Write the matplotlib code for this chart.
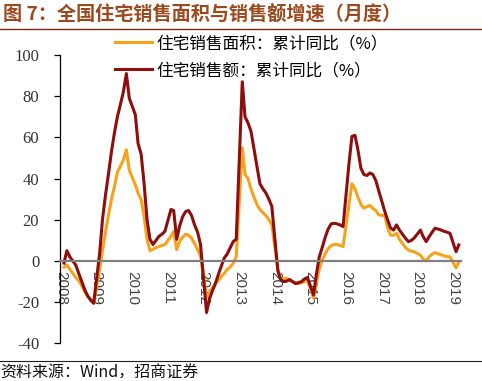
import matplotlib
matplotlib.use('Agg')
import matplotlib.pyplot as plt
import matplotlib.dates as mdates
from matplotlib.lines import Line2D
import pandas as pd

plt.rcParams['font.family'] = ['Noto Sans CJK SC', 'DejaVu Sans']
plt.rcParams['axes.unicode_minus'] = False

# 住宅销售面积 / 销售额 累计同比 (%), monthly Feb-Dec (no Jan), 2008-02 .. 2019-03
area_yoy = [
    -3, -2, -4, -6, -8, -9.5, -12, -15, -17, -19, -20.5,        # 2008
    -4, 5, 14, 22, 30, 36, 43, 46, 49, 54, 44,                  # 2009
    37, 33, 30, 22, 10.5, 5, 5.7, 6.5, 7, 7.5, 8,               # 2010
    12, 14.3, 5.5, 9.5, 11.5, 13, 12.5, 11, 8.5, 5.5, 2.5,      # 2011
    -17.5, -15.5, -13, -11, -9.5, -7.5, -6, -4, -3, -1, 2,      # 2012
    55, 42, 40, 35, 31, 27.5, 25, 23.5, 22, 20, 17.5,           # 2013
    -4, -8.5, -8.6, -8.4, -9.5, -10, -10.5, -11, -10.5, -10, -9.3,  # 2014
    -18, -11, -4, 0.5, 3.5, 6, 7.5, 8, 8, 7.5, 7,               # 2015
    28, 37.5, 35, 31, 27.5, 25.6, 26.4, 27, 25.5, 24.5, 22.4,   # 2016
    22, 16, 12.5, 12.5, 13.4, 10.5, 8.5, 6.5, 5.3, 4.7, 4.5,    # 2017
    2.8, 1, 0, 2, 3.3, 4, 3.5, 3, 2.5, 2.2, 2,                  # 2018
    -3.3, -0.5,                                                 # 2019
]
value_yoy = [
    -1, 5, 2, 0, -2, -6, -10, -14, -17, -19, -20.5,             # 2008
    4, 20, 32, 42, 53, 62, 70, 76, 82, 91, 79,                  # 2009
    71, 57, 52, 38, 20, 10.5, 8, 10, 12, 13, 14.4,              # 2010
    25, 24.5, 10.5, 17, 21.5, 24, 24.5, 22, 17.5, 14, 8,        # 2011
    -25, -18.5, -14.5, -11, -6.5, -2.5, 1.5, 3.5, 6.5, 9.5, 10.5,  # 2012
    87, 70, 67, 63, 54.5, 46, 37.5, 35, 33, 30, 26.5,           # 2013
    -5, -9, -10, -9.8, -9, -10, -11, -10.5, -10, -8.7, -8,      # 2014
    -16.5, -7, 2, 6.5, 11.5, 15.5, 18, 18.3, 18, 17.5, 16.7,    # 2015
    48, 60.5, 61, 54, 45, 42, 41.5, 42.7, 42, 39, 34,           # 2016
    24, 20, 16, 15, 17.5, 15, 13, 11, 9.4, 10, 11.3,            # 2017
    15, 11.8, 9.4, 11.8, 14, 15.9, 15.5, 15, 14.4, 14, 13.4,    # 2018
    4.5, 7.8,                                                   # 2019
]
years = list(range(2008, 2020))
months = pd.to_datetime([f'{y}-{m:02d}-01' for y in years for m in range(2, 13)][:len(area_yoy)])

labels = ['住宅销售面积：累计同比（%）', '住宅销售额：累计同比（%）']
colors = ['#F7A21B', '#8E0E0E']

fig = plt.figure(figsize=(4.82, 3.81), dpi=100)
ax = fig.add_axes([0.1245, 0.0987, 0.832, 0.757])

l1, = ax.plot(months, area_yoy, color=colors[0], lw=2.2)
l2, = ax.plot(months, value_yoy, color=colors[1], lw=2.2)

ax.set_ylim(-40, 100)
ax.set_yticks(range(-40, 101, 20))
ax.set_xlim(pd.Timestamp('2007-12-22'), pd.Timestamp('2019-03-24'))
ax.xaxis.set_major_locator(mdates.YearLocator())
ax.xaxis.set_major_formatter(mdates.DateFormatter('%Y'))

for s in ['top', 'right']:
    ax.spines[s].set_visible(False)
ax.spines['bottom'].set_position(('data', 0))
ax.spines['bottom'].set_color('#808080')
ax.spines['bottom'].set_linewidth(1.6)
ax.spines['left'].set_linewidth(0.9)

ax.tick_params(axis='x', length=0, pad=7, labelrotation=-90, labelsize=11)
ax.tick_params(axis='y', direction='out', length=4, width=0.9, pad=11, labelsize=12)
plt.setp(ax.get_yticklabels(), family='Liberation Serif', color='#333333')
plt.setp(ax.get_xticklabels(), family='Liberation Sans', color='#444444')

fig.legend([l1, l2], labels, loc='upper left', bbox_to_anchor=(115 / 482, 1 - 35 / 381),
           frameon=False, handlelength=2.2, handletextpad=0.3, labelspacing=0.62,
           borderaxespad=0, borderpad=0, prop={'family': 'Noto Sans CJK SC', 'size': 12})

# title, rules and source
fig.text(0.006, 1 - 14 / 381, '图 7：全国住宅销售面积与销售额增速（月度）', fontsize=13.8,
         fontweight='bold', color='#9A4A1E', va='center')
fig.add_artist(Line2D([0, 1], [1 - 29 / 381] * 2, color='#7A2A10', lw=1))
fig.add_artist(Line2D([0, 1], [1 - 361 / 381] * 2, color='#222222', lw=0.8))
fig.text(0.0, 1 - 373 / 381, '资料来源：Wind，招商证券', fontsize=11.5, va='center', color='#111111')

fig.savefig('out.png', dpi=100)
